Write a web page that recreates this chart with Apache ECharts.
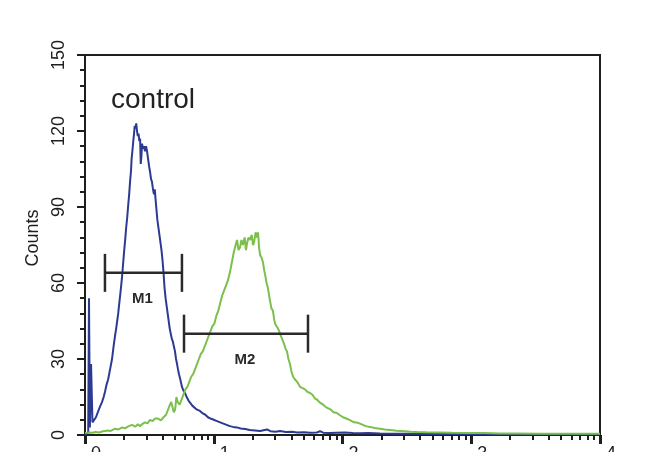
<!DOCTYPE html>
<html>
<head>
<meta charset="utf-8">
<script src="https://cdn.jsdelivr.net/npm/echarts@6/dist/echarts.min.js"></script>
<style>
html,body{margin:0;padding:0;background:#fff;}
#chart{width:650px;height:452px;}
</style>
</head>
<body>
<div id="chart"></div>
<script>
// ---- data (x in log10 decades of fluorescence, y in counts) ----
const xTickLabels = ['0', '1', '2', '3', '4'];
const yTicks = [0, 30, 60, 90, 120, 150];

const blueLog = [0.000,0.025,0.031,0.038,0.047,0.058,0.070,0.085,0.100,0.115,0.132,0.145,0.155,0.168,0.180,0.195,0.210,0.222,0.233,0.242,0.250,0.258,0.264,0.275,0.287,0.295,0.303,0.312,0.320,0.328,0.336,0.343,0.350,0.357,0.362,0.368,0.375,0.381,0.386,0.392,0.398,0.404,0.410,0.416,0.422,0.428,0.433,0.438,0.443,0.450,0.458,0.466,0.474,0.482,0.490,0.498,0.505,0.513,0.520,0.528,0.536,0.542,0.548,0.555,0.562,0.570,0.578,0.586,0.594,0.602,0.610,0.618,0.626,0.634,0.642,0.650,0.658,0.666,0.674,0.682,0.690,0.699,0.707,0.715,0.722,0.730,0.740,0.753,0.765,0.777,0.790,0.805,0.820,0.835,0.850,0.870,0.893,0.915,0.935,0.955,0.975,1.000,1.025,1.050,1.075,1.100,1.125,1.150,1.180,1.210,1.243,1.280,1.320,1.360,1.414,1.440,1.480,1.515,1.560,1.608,1.650,1.700,1.750,1.800,1.825,1.850,1.900,1.950,2.020,2.080,2.136,2.200,2.290,2.400,2.550,2.700,2.900,3.100,3.400,3.700,4.000];
const blueCounts = [0,1,54,3,28,5,4.5,7,9,11,13,15,17,20,22,26,30,35,39,42,45,48,51,56,62,67,72,77,82,86,91,95,100,104,109,112,116,119,122,121,123,120,118,119,116,117,107,110,115,113,114,112,114,112,109,106,104,101,100,97,95,97,93,89,85,82,79,76,73,69,64,58,54,51,48,45,42,40,38,37,35,33,30,28,26,24,22,19,17.5,16.5,15,13.5,12.5,11.5,11,10,9.5,8.5,8,7,6.5,6,5.5,5,4.5,4,3.5,3.2,3,2.6,2.4,2,1.8,1.6,2.2,1.5,1.3,1.6,1.2,1.3,1,1.1,0.9,1,1.5,0.9,0.8,0.9,1,0.8,0.7,0.8,0.6,0.5,0.5,0.4,0.4,0.3,0.3,0.3,0.3];

const greenLog = [0.000,0.030,0.060,0.080,0.110,0.140,0.155,0.180,0.200,0.233,0.260,0.290,0.310,0.340,0.365,0.390,0.410,0.427,0.450,0.466,0.485,0.505,0.525,0.545,0.567,0.590,0.610,0.630,0.645,0.660,0.670,0.680,0.690,0.700,0.710,0.720,0.735,0.750,0.765,0.780,0.795,0.810,0.825,0.840,0.855,0.870,0.885,0.900,0.915,0.930,0.945,0.960,0.975,0.990,1.005,1.020,1.035,1.050,1.065,1.080,1.095,1.110,1.125,1.140,1.155,1.170,1.181,1.192,1.204,1.215,1.227,1.240,1.250,1.260,1.270,1.282,1.295,1.305,1.313,1.325,1.336,1.344,1.352,1.360,1.372,1.383,1.392,1.400,1.410,1.421,1.430,1.437,1.448,1.460,1.468,1.476,1.487,1.499,1.508,1.515,1.530,1.546,1.558,1.569,1.580,1.592,1.604,1.616,1.630,1.647,1.660,1.670,1.690,1.709,1.728,1.748,1.765,1.785,1.802,1.820,1.835,1.849,1.870,1.890,1.910,1.930,1.957,1.980,2.004,2.030,2.058,2.090,2.120,2.150,2.180,2.214,2.250,2.291,2.330,2.369,2.420,2.485,2.530,2.579,2.650,2.757,2.850,2.990,3.100,3.223,3.350,3.534,3.700,3.850,4.000];
const greenCounts = [0.8,1,0.9,1.2,1,1.5,1.3,1.8,1.6,2.5,2.2,3,2.6,3.5,4,3.3,4.2,3.5,4.5,5,4.6,6,5.5,6.5,6.5,5.8,7,8,8.5,12,13,11,9,10,15,13,12,14,16,18,19,21,23,24,26,28,30,32,33,35,37,39,41,43,44,47,49,52,55,57,59,61,64,68,72,75,77,73,74,77,75,78,73,76,78,77,79,75,76,80,78,80,74,71,70,68,65,63,60,58,55,53,50,49,46,44,43,42,41,40,38,36,34,33,30,28,25,23,22,21,20,19,18.5,18,17,16.6,16,14.5,14,13,12.6,12,11,10.5,10,9,8.7,7.8,7,6.5,5.9,5,4.8,4.2,3.5,3.2,2.8,2.5,2.2,2,1.7,1.5,1.3,1.2,1.1,1,0.9,0.8,0.8,0.6,0.6,0.5,0.5,0.5,0.5];

// marker gates
const gateNames = ['M1', 'M2'];
const gateStart = [0.155, 0.769];
const gateEnd = [0.753, 1.732];
const gateLevel = [64, 40];

const titleText = 'control';
const yName = 'Counts';

// ---- build ----
const zip = (xs, ys) => xs.map((x, i) => [x, ys[i]]);
const minorTickPos = [];
for (let d = 0; d < 4; d++) for (let k = 2; k <= 9; k++) minorTickPos.push(d + Math.log10(k));

const FONT = '"Liberation Sans Narrow", "Liberation Sans", Arial, sans-serif';

const chart = echarts.init(document.getElementById('chart'), null, {renderer: 'canvas'});
chart.setOption({
  animation: false,
  backgroundColor: '#ffffff',
  title: {
    text: titleText, left: 106, top: 81,
    textStyle: {fontSize: 28, fontWeight: 'normal', color: '#222', fontFamily: FONT}
  },
  grid: {
    left: 85, right: 50, top: 55, bottom: 17,
    show: true, borderColor: '#1e1e1e', borderWidth: 2,
    containLabel: false, outerBoundsMode: 'none'
  },
  xAxis: [{
    type: 'value', min: 0, max: 4, interval: 1,
    axisLine: {show: true, lineStyle: {color: '#1e1e1e', width: 2}},
    axisTick: {show: true, length: 9, lineStyle: {color: '#1e1e1e', width: 3}},
    axisLabel: {
      show: true, margin: 10, align: 'left', padding: [0, 0, 0, 6],
      formatter: v => xTickLabels[Math.round(v)],
      fontSize: 18, color: '#1e1e1e', fontFamily: FONT
    },
    splitLine: {show: false}
  }, {
    type: 'value', min: 0, max: 4, position: 'bottom',
    axisLine: {show: false},
    axisTick: {show: true, length: 5, customValues: minorTickPos, lineStyle: {color: '#1e1e1e', width: 2}},
    axisLabel: {show: false},
    splitLine: {show: false}
  }],
  yAxis: {
    type: 'value', min: 0, max: 150, interval: 30,
    name: yName, nameLocation: 'middle', nameGap: 42,
    nameTextStyle: {fontSize: 18, color: '#1e1e1e', fontFamily: FONT, padding: [0, 0, 0, 14]},
    axisLine: {show: true, lineStyle: {color: '#1e1e1e', width: 2}},
    axisTick: {show: true, length: 8, lineStyle: {color: '#1e1e1e', width: 2}},
    minorTick: {show: true, splitNumber: 5, length: 5, lineStyle: {color: '#1e1e1e', width: 2}},
    axisLabel: {
      show: true, rotate: 90, margin: 17, align: 'center', verticalAlign: 'bottom',
      formatter: v => (yTicks.indexOf(v) >= 0 ? String(v) : ''),
      fontSize: 18, color: '#1e1e1e', fontFamily: FONT
    },
    splitLine: {show: false}
  },
  series: [{
    name: 'control', type: 'line', xAxisIndex: 0,
    data: zip(blueLog, blueCounts),
    showSymbol: false, smooth: false,
    lineStyle: {color: '#2d3a92', width: 2}, z: 3
  }, {
    name: 'sample', type: 'line', xAxisIndex: 0,
    data: zip(greenLog, greenCounts),
    showSymbol: false, smooth: false,
    lineStyle: {color: '#7bbf4c', width: 2}, z: 4
  }, {
    name: 'gates', type: 'custom', xAxisIndex: 0, z: 10,
    data: gateNames.map((n, i) => [gateStart[i], gateEnd[i], gateLevel[i]]),
    encode: {x: [0, 1], y: 2},
    renderItem: function (params, api) {
      const a = api.coord([api.value(0), api.value(2)]);
      const b = api.coord([api.value(1), api.value(2)]);
      const h = 19;
      const st = {stroke: '#2a2a2a', lineWidth: 2.5};
      return {
        type: 'group',
        children: [
          {type: 'line', shape: {x1: a[0], y1: a[1], x2: b[0], y2: b[1]}, style: st},
          {type: 'line', shape: {x1: a[0], y1: a[1] - h, x2: a[0], y2: a[1] + h}, style: st},
          {type: 'line', shape: {x1: b[0], y1: b[1] - h, x2: b[0], y2: b[1] + h}, style: st},
          {type: 'text', x: (a[0] + b[0]) / 2 - 1, y: a[1] + 26,
            style: {text: gateNames[params.dataIndex], fill: '#2a2a2a', font: 'bold 15px ' + FONT,
              align: 'center', verticalAlign: 'middle'}}
        ]
      };
    }
  }]
});
</script>
</body>
</html>
